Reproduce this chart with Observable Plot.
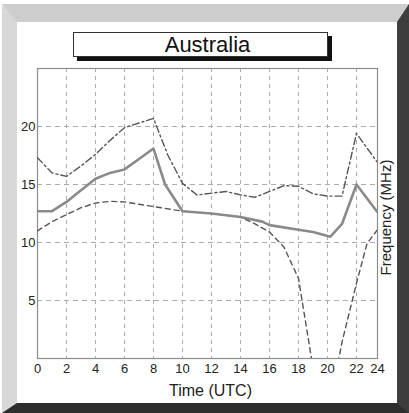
<!DOCTYPE html>
<html><head><meta charset="utf-8">
<script src="https://cdn.jsdelivr.net/npm/d3@7"></script>
<script src="https://cdn.jsdelivr.net/npm/@observablehq/plot@0.6"></script>
<style>
html,body{margin:0;padding:0;background:#fff;}
#wrap{position:relative;width:409px;height:413px;overflow:hidden;font-family:"Liberation Sans",Arial,sans-serif;}
#bevel{position:absolute;left:2px;top:4px;width:407px;height:409px;box-sizing:border-box;border-style:solid;border-width:18px 12px 10px 15px;border-color:#cdcdcd #3e3e3e #2e2e2e #d8d8d8;}
#chart{position:absolute;left:0;top:0;}
#title{position:absolute;left:73px;top:32px;width:255px;height:25px;box-sizing:border-box;border:1px solid #333;background:#fff;box-shadow:4px 4px 0 #111;text-align:center;font-size:22px;line-height:23px;color:#111;padding-left:14px;}
</style>
</head><body>
<div id="wrap"><div id="bevel"></div><div id="chart"></div><div id="title">Australia</div></div>
<script>
const titleText = "Australia";
const xLabel = "Time (UTC)";
const yLabel = "Frequency (MHz)";
const xTicks = [0,2,4,6,8,10,12,14,16,18,20,22,24];
const yTicks = [5,10,15,20];

// Solid grey line
const solidHours  = [0,1,2,3,4,5,6,7,8,8.8,10,12,14,15.5,16,18,19,20.2,21,22,24];
const solidValues = [12.7,12.7,13.5,14.5,15.5,16.0,16.3,17.2,18.1,15.0,12.7,12.5,12.2,11.8,11.5,11.1,10.9,10.5,11.6,15.0,12.6];

// Upper dash-dot line
const dashDotHours  = [0,1,2,3,4,5,6,7,8,9,10,11,13,14,15,16,17,18,19,20,21,22,24];
const dashDotValues = [17.3,16.0,15.7,16.6,17.6,18.8,19.9,20.3,20.7,17.5,15.1,14.1,14.4,14.1,13.9,14.4,14.9,14.85,14.2,14.0,14.0,19.4,16.9];

// Lower dashed line (drops below the chart around 19-21 UTC)
const dashedHours  = [0,1,2,3,4,5,6,7,8,10,12,14,15,16,17,18,19,20,21,22,23,24];
const dashedValues = [11.0,11.8,12.4,13.0,13.4,13.55,13.5,13.3,13.1,12.7,12.5,12.2,11.6,10.9,9.6,6.9,-0.8,-5,1.4,6.5,9.9,11.1];

const toRows = (hs, vs) => hs.map((h, i) => ({hour: h, value: vs[i]}));
const solid = toRows(solidHours, solidValues);
const dashDot = toRows(dashDotHours, dashDotValues);
const dashed = toRows(dashedHours, dashedValues);

document.getElementById("title").textContent = titleText;

const chart = Plot.plot({
  width: 409,
  height: 413,
  marginLeft: 37,
  marginRight: 32,
  marginTop: 68,
  marginBottom: 55,
  style: {background: "transparent", fontFamily: "'Liberation Sans', Arial, sans-serif", fontSize: "13px", color: "#222"},
  x: {type: "linear", domain: [0, 22, 24], range: [37, 356, 377], ticks: xTicks, tickSize: 0, tickPadding: 5, label: null},
  y: {domain: [0, 25], ticks: yTicks, tickSize: 0, tickPadding: 2, label: null},
  marks: [
    Plot.ruleX(xTicks.filter(d => d > 0 && d < 24), {stroke: "#acacac", strokeDasharray: "4,4", strokeWidth: 1}),
    Plot.ruleY(yTicks, {stroke: "#acacac", strokeDasharray: "5,4", strokeWidth: 1}),
    Plot.frame({stroke: "#8c8c8c", strokeWidth: 1.2}),
    Plot.line(dashed, {x: "hour", y: "value", stroke: "#555", strokeWidth: 1.4, strokeDasharray: "5,4", clip: true}),
    Plot.line(dashDot, {x: "hour", y: "value", stroke: "#555", strokeWidth: 1.4, strokeDasharray: "7,3,2,3", clip: true}),
    Plot.line(solid, {x: "hour", y: "value", stroke: "#8a8a8a", strokeWidth: 2.6, clip: true}),
    Plot.text([xLabel], {frameAnchor: "bottom", textAnchor: "middle", dx: 3, dy: 37, fontSize: 16, fill: "#222"}),
    Plot.text([yLabel], {frameAnchor: "right", textAnchor: "middle", rotate: -90, dx: 9, dy: 4, fontSize: 15, fill: "#222"})
  ]
});
document.getElementById("chart").appendChild(chart);
</script>
</body></html>
